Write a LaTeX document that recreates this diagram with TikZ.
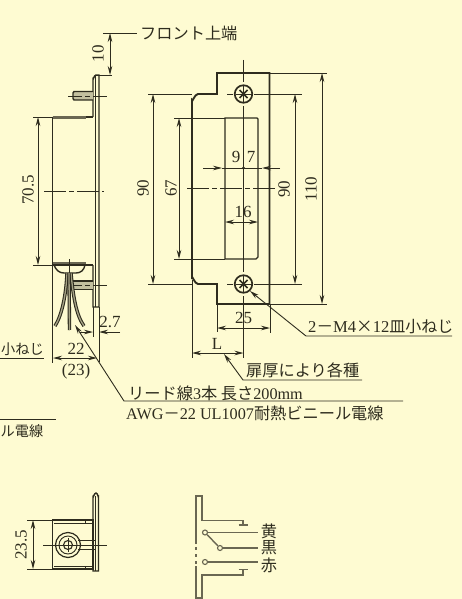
\documentclass[tikz,border=0pt]{standalone}
\usepackage{fontspec}
\setmainfont{Liberation Serif}
\newfontfamily\jpf{Noto Sans CJK JP}
\usetikzlibrary{arrows.meta}
\definecolor{bgc}{HTML}{FEFBD2}
\definecolor{ink}{HTML}{2E2C1E}
\definecolor{flange}{HTML}{6A6752}
\tikzset{
 thin line/.style={draw=ink,line width=0.9pt},
 ctr/.style={draw=ink,line width=0.9pt,dash pattern=on 22pt off 3pt on 5pt off 3pt},
 heavy/.style={draw=ink,line width=1.9pt},
 mid/.style={draw=ink,line width=1.4pt},
 dimline/.style={draw=ink,line width=0.9pt,{Stealth[length=9pt,width=4.5pt]}-{Stealth[length=9pt,width=4.5pt]}},
 onearrow/.style={draw=ink,line width=0.9pt,-{Stealth[length=9pt,width=4.5pt]}},
 tip/.style={draw=ink,line width=0.9pt,{Stealth[length=9pt,width=4.5pt]}-},
 lbl/.style={inner sep=0pt,text=ink,font=\fontsize{17}{17}\selectfont},
 jlbl/.style={inner sep=0pt,text=ink,font=\fontsize{16.2}{17}\selectfont\jpf},
 jedge/.style={inner sep=0pt,text=ink,font=\fontsize{14.2}{17}\selectfont\jpf},
 wire/.style={draw=ink,line width=3.4pt},
 wirecore/.style={draw=flange!60!bgc,line width=1.3pt},
 sw/.style={draw=flange,line width=1.4pt},
 contact/.style={circle,draw=flange,line width=1.1pt,fill=bgc,minimum size=5pt,inner sep=0pt},
}
\begin{document}
\begin{tikzpicture}[x=1pt,y=-1pt]
\useasboundingbox (0,0) rectangle (462,599);
\fill[bgc] (0,0) rectangle (462,599);
\clip (0,0) rectangle (462,599);

% ---- side view
\draw[mid] (93,117) -- (93,79) to[out=-90,in=180] (96,75) -- (99,75) -- (99,307) -- (93,307) -- (93,265);
\draw[mid] (95.5,76) -- (95.5,307);
\draw[mid] (52.5,117) -- (93,117);
\draw[mid] (52.5,117) -- (52.5,265);
\fill[flange] (53,116.5) rectangle (86,119.5);
\fill[flange] (53,262) rectangle (86,265);
\draw[mid] (53,265) -- (93,265);
\draw[mid] (54,265) .. controls (56,270) and (59,273) .. (64,273) -- (76,273) .. controls (81,273) and (84,270) .. (85,265);
% upper and lower screws
\draw[mid,fill=flange!40!bgc] (93,91.5) -- (74,91.5) -- (73,93) -- (73,98.5) -- (74,100) -- (93,100);
\draw[mid,fill=flange!40!bgc] (93,281) -- (72,281) -- (72,289.5) -- (93,289.5);
\draw[ctr,dash pattern=on 14pt off 3pt on 5pt off 3pt] (68,96) -- (109,96);
\draw[ctr,dash pattern=on 14pt off 3pt on 5pt off 3pt] (68,285.5) -- (109,285.5);
\draw[thin line] (69.5,259) -- (69.5,275);
% wires
\draw[wire] (67,273) .. controls (66,295) and (62,315) .. (55,326);
\draw[wirecore] (67,273) .. controls (66,295) and (62,315) .. (55,326);
\draw[wire] (71,273) .. controls (73,295) and (76,315) .. (84,326);
\draw[wirecore] (71,273) .. controls (73,295) and (76,315) .. (84,326);
\draw[wire] (69,273) -- (69.5,330);
\draw[wirecore] (69,273) -- (69.5,330);
% centre line
\draw[ctr] (44,191) -- (104,191);

% dim 10
\draw[thin line] (103,33) -- (137,33);
\draw[thin line] (96,75) -- (112,75);
\draw[dimline] (110,33) -- (110,75);
\node[lbl,rotate=90] (d10) at (98,54) {10};
\node[jlbl,anchor=west] (front) at (140,33) {フロント上端};

% dim 70.5
\draw[thin line] (33,117) -- (53,117);
\draw[thin line] (33,265) -- (53,265);
\draw[dimline] (38,117) -- (38,265);
\node[lbl,rotate=90] (d705) at (28,190) {70.5};

% dim 2.7, 22
\draw[thin line] (93,307) -- (93,337);
\draw[thin line] (99,307) -- (99,362);
\draw[thin line] (52.5,265) -- (52.5,363);
\draw[onearrow] (80,332) -- (93,332);
\draw[onearrow] (120,332) -- (99,332);
\node[lbl] (d27) at (110,322) {2.7};
\draw[dimline] (53,358) -- (97,358);
\node[lbl] (d22) at (76,349) {22};
\node[lbl] (d23) at (76,371) {(23)};

% texts at the left edge
\node[jedge,anchor=east] (kone) at (44,349) {小ねじ};
\draw[thin line] (0,358.5) -- (44,358.5);
\draw[thin line] (0,419) -- (56,419);
\node[jedge,anchor=east] (dens) at (43.5,431) {ル電線};

% ---- front view
\draw[heavy] (192,279) -- (192,100) to[out=-90,in=180] (198,94) -- (217,94) -- (217,73) -- (269.5,73) -- (269.5,304) -- (217,304) -- (217,284) -- (198,284) to[out=180,in=90] (192,278);
\draw[mid] (225,259) -- (225,118) -- (257,118) to[out=0,in=-90] (258,119) -- (258,257) to[out=90,in=0] (256,259) -- cycle;
% centre lines
\draw[thin line] (243.5,60) -- (243.5,82);
\draw[thin line] (243.5,106) -- (243.5,272);
\draw[thin line] (243.5,296) -- (243.5,358);
\draw[ctr] (187,188) -- (277,188);
\draw[thin line] (227,94) -- (233,94);
\draw[thin line] (254,94) -- (302,94);
\draw[thin line] (227,284) -- (233,284);
\draw[thin line] (254,284) -- (302,284);
% screws
\foreach \n/\yy in {sa/94,sb/284}{
 \node[circle,draw=ink,line width=1.7pt,fill=bgc,minimum size=17.5pt,inner sep=0pt] (\n) at (243.5,\yy) {};
 \draw[thin line] (243.5,\yy-8) -- (243.5,\yy+8);
 \draw[thin line] (235.5,\yy) -- (251.5,\yy);
 \draw[draw=ink,line width=1.6pt] (239.5,\yy-4) -- (247.5,\yy+4);
 \draw[draw=ink,line width=1.6pt] (239.5,\yy+4) -- (247.5,\yy-4);
}
% dims
\draw[thin line] (148,94) -- (192,94);
\draw[thin line] (148,284) -- (192,284);
\draw[dimline] (153,94) -- (153,284);
\node[lbl,rotate=90] (d90a) at (143,188) {90};
\draw[thin line] (174,118) -- (225,118);
\draw[thin line] (174,259) -- (225,259);
\draw[dimline] (179,118) -- (179,259);
\node[lbl,rotate=90] (d67) at (171,188) {67};
\draw[dimline] (295,94) -- (295,284);
\node[lbl,rotate=90] (d90b) at (284,189) {90};
\draw[thin line] (270,73) -- (327,73);
\draw[thin line] (270,304) -- (327,304);
\draw[dimline] (322,73) -- (322,304);
\node[lbl,rotate=90] (d110) at (311,189) {110};
% 9:7
\draw[onearrow] (203,168) -- (222,168);
\draw[onearrow] (280,168) -- (262,168);
\draw[thin line] (222,168) -- (262,168);
\fill[ink] (243.5,168) circle (1.6pt);
\node[lbl] (d9) at (236,157) {9};
\node[lbl] (d7) at (251,157) {7};
% 16
\draw[dimline] (225,222) -- (258,222);
\node[lbl] (d16) at (243,212) {16};
% 25
\draw[thin line] (217,304) -- (217,332);
\draw[thin line] (270,304) -- (270,333);
\draw[dimline] (217,328) -- (270,328);
\node[lbl] (d25) at (243.5,318) {25};
% L
\draw[thin line] (192,280) -- (192,358);
\draw[dimline] (192,353) -- (243.5,353);
\node[lbl] (dL) at (217,344) {L};
% leaders
\node[jlbl,anchor=west] (tobira) at (246,370) {扉厚により各種};
\coordinate (tl1) at (224,354);
\coordinate (tl2) at (243,380);
\coordinate (tl3) at (362,380);
\draw[tip] (tl1) -- (tl2) -- (tl3);
\node[anchor=west,inner sep=0pt,text=ink,font=\fontsize{16.6}{17}\selectfont] (screwt) at (308,327) {2{\jpf －}M4{\jpf ×}12{\fontsize{16}{17}\selectfont\jpf 皿小ねじ}};
\coordinate (sl1) at (250,291);
\coordinate (sl2) at (306,336);
\coordinate (sl3) at (452,336);
\draw[tip] (sl1) -- (sl2) -- (sl3);
\node[anchor=west,inner sep=0pt,text=ink,font=\fontsize{16.2}{17}\selectfont] (lead) at (128,393) {{\jpf リード線}3{\jpf 本 長さ}200mm};
\node[anchor=west,inner sep=0pt,text=ink,font=\fontsize{16.2}{17}\selectfont] (awg) at (126,413) {AWG{\jpf －}22 UL1007{\jpf 耐熱ビニール電線}};
\coordinate (ll1) at (75,325);
\coordinate (ll2) at (124,401);
\coordinate (ll3) at (403,401);
\draw[tip] (ll1) -- (ll2) -- (ll3);

% ---- bottom side view
\draw[mid] (93,520) -- (93,497) to[out=-90,in=180] (96,493) to[out=0,in=-90] (98.5,497) -- (98.5,571) -- (93,571) -- (93,569);
\draw[mid] (95.5,496) -- (95.5,571);
\draw[mid] (52.5,520) rectangle (93,569);
\draw[thin line] (54,523) -- (93,523);
\draw[thin line] (54,566) -- (93,566);
\draw[thin line] (85,520) -- (85,523);
\draw[thin line] (85,566) -- (85,569);
\node[circle,draw=ink,line width=1.2pt,minimum size=25pt,inner sep=0pt] (co) at (68,545) {};
\node[circle,draw=ink,line width=0.9pt,minimum size=18pt,inner sep=0pt] (cm) at (68,545) {};
\node[circle,draw=ink,line width=1.1pt,minimum size=9pt,inner sep=0pt] (ci) at (68,545) {};
\draw[mid] (78,540.5) -- (95,540.5);
\draw[mid] (78,549.5) -- (95,549.5);
\draw[thin line] (43,545) -- (107,545);
\draw[thin line] (68,538) -- (68,552);
\draw[thin line] (27,520) -- (52,520);
\draw[thin line] (27,569) -- (52,569);
\draw[dimline] (33,520) -- (33,569);
\node[lbl,rotate=90] (d235) at (21,545) {23.5};

% ---- switch schematic
\draw[sw] (196,544) -- (196,496) -- (202,496) -- (202,520.5) -- (243,520.5) -- (243,525);
\draw[sw] (238.5,525) -- (248,525);
\draw[sw] (196,566) -- (196,598) -- (202,598) -- (202,575) -- (243,575) -- (243,569.5);
\draw[sw] (238.5,569.5) -- (248,569.5);
\draw[sw,dash pattern=on 3pt off 4pt] (196,547) -- (196,564);
\node[contact] (c1) at (205,532.5) {};
\node[contact] (c2) at (220,548) {};
\node[contact] (c3) at (205,562) {};
\coordinate (e1) at (258,532.5);
\coordinate (e2) at (258,548);
\coordinate (e3) at (258,562);
\draw[sw] (c1) -- (e1);
\draw[sw] (c2) -- (e2);
\draw[sw] (c3) -- (e3);
\draw[sw] (c1) -- (c2);
\node[jlbl] (yel) at (269,531) {黄};
\node[jlbl] (blk) at (269,548) {黒};
\node[jlbl] (red) at (269,565) {赤};
\end{tikzpicture}
\end{document}
